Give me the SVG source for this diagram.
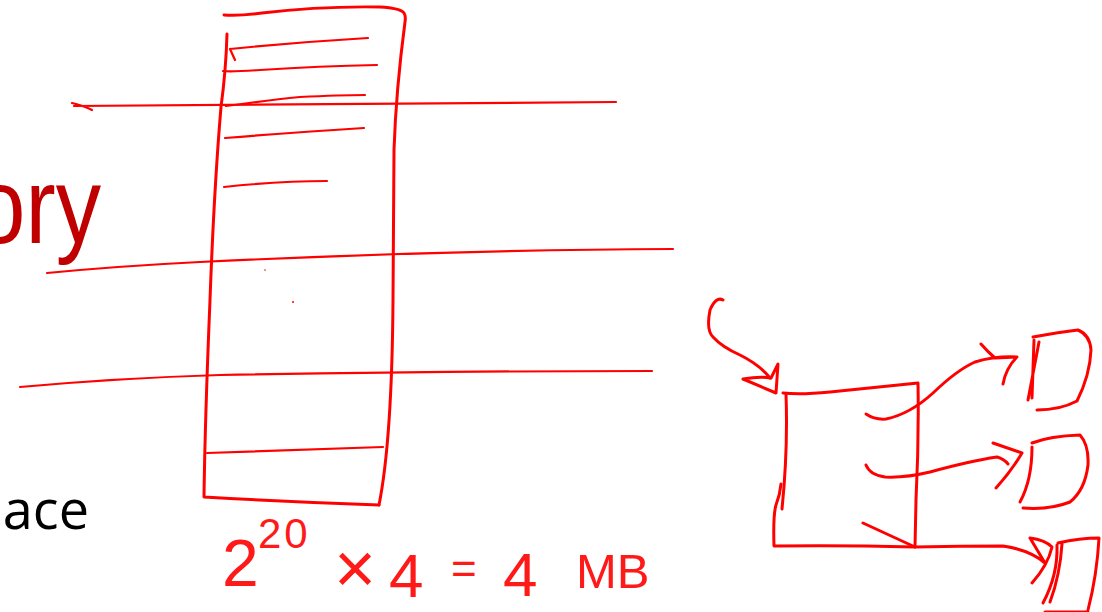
<svg xmlns="http://www.w3.org/2000/svg" width="1102" height="612" viewBox="0 0 1102 612">
<style>
.ink{fill:none;stroke:#ff0000;stroke-width:3;stroke-linecap:round;stroke-linejoin:round}
.thin{stroke-width:2.2}
.hw{font-family:"Liberation Sans","DejaVu Sans",sans-serif;fill:#ff1a1a}
</style>
<rect width="1102" height="612" fill="#ffffff"/>
<text transform="translate(101,243) scale(0.84,1)" x="0" y="0" font-family="'Liberation Sans',sans-serif" font-size="108" fill="#c00000" text-anchor="end">ory</text>
<text x="89" y="529" font-family="'Open Sans','Liberation Sans',sans-serif" font-size="54" fill="#000000" text-anchor="end">ace</text>

<g id="page-lines">
<path class="ink thin" d="M72,103 Q84,106 92,110 M74,106 Q300,104 616,102"/>
<path class="ink thin" d="M47,273 Q120,266 200,262 Q450,250 673,249"/>
<path class="ink thin" d="M20,387 Q120,378 220,375 Q450,371 652,371"/>
<circle cx="265" cy="270" r="0.8" fill="#ff0000"/>
<circle cx="293" cy="302" r="1" fill="#ff0000"/>
</g>

<g id="page-table">
<path class="ink" d="M224,15 Q240,16 262,13 Q320,6 380,7 Q400,8 404,13 Q406,16 405,22 Q396,90 394,150 L393,300 Q392,440 379,505"/>
<path class="ink" d="M227,34 Q226,70 221,107 Q214,190 210,300 Q205,420 204,497 Q290,502 379,505"/>
<path class="ink thin" d="M230,49 Q300,42 368,38 M230,49 L235,60"/>
<path class="ink thin" d="M223,71 Q230,72 260,70 Q320,66 377,65"/>
<path class="ink thin" d="M226,106 Q270,100 300,97 Q340,95 365,95"/>
<path class="ink thin" d="M225,138 Q300,132 364,128"/>
<path class="ink thin" d="M224,187 Q280,181 327,181"/>
<path class="ink thin" d="M207,453 Q300,450 383,447"/>
</g>

<g id="size-label" class="hw">
<text x="222" y="586" font-size="66">2</text>
<text x="258" y="548" font-size="42" letter-spacing="3">20</text>
<text x="334" y="593" font-size="72">×</text>
<text x="389" y="597" font-size="62">4</text>
<text x="451" y="584" font-size="44">=</text>
<text x="503" y="596" font-size="62">4</text>
<text x="576" y="588" font-size="49">MB</text>
</g>

<g id="dir-box">
<path class="ink" d="M783,393 Q800,395 830,392 Q880,387 918,383 Q919,440 916,500 L915,547"/>
<path class="ink" d="M786,394 Q788,450 782,509"/>
<path class="ink" d="M781,484 Q780,495 776,505 Q773,515 774,546 Q840,545 915,547"/>
</g>

<g id="page-1">
<path class="ink" d="M1039,342 L1028,400 M1034,340 L1032,398"/>
<path class="ink" d="M1033,337 Q1060,332 1078,330 Q1090,335 1091,350 Q1090,375 1077,401 Q1060,410 1037,410"/>
</g>
<g id="page-2">
<path class="ink" d="M1032,447 Q1032,480 1020,502"/>
<path class="ink" d="M1032,443 Q1050,436 1080,435 Q1089,445 1088,465 Q1085,490 1070,502 Q1050,510 1023,508"/>
</g>
<g id="page-3">
<path class="ink" d="M1057,545 Q1058,575 1043,603 M1062,544 Q1060,575 1050,602"/>
<path class="ink" d="M1058,543 Q1080,538 1099,538 Q1097,575 1088,610"/>
<path class="ink" d="M1045,612 L1088,612"/>
</g>

<g id="connectors">
<path class="ink" d="M723,300 Q716,296 710,310 Q706,330 713,337 Q722,347 740,355 Q760,365 770,378"/>
<path class="ink" d="M778,364 L776,393 L743,379 Q760,376 771,378 L778,364 Z"/>
<path class="ink" d="M866,414 Q875,420 886,419 Q910,414 933,393 Q957,370 975,362 Q995,356 1017,357 M981,344 Q988,352 995,358 L1017,357 Q1006,368 1003,384"/>
<path class="ink" d="M866,465 Q870,475 885,477 Q905,478 930,472 Q970,461 997,457 Q1004,459 1008,464 M993,443 L1022,453 Q1012,470 996,488"/>
<path class="ink" d="M863,523 L915,547 Q960,546 1003,546 Q1030,550 1045,563 M1030,538 Q1045,540 1052,547 Q1048,565 1032,583 M1030,538 L1045,563"/>
</g>
</svg>
